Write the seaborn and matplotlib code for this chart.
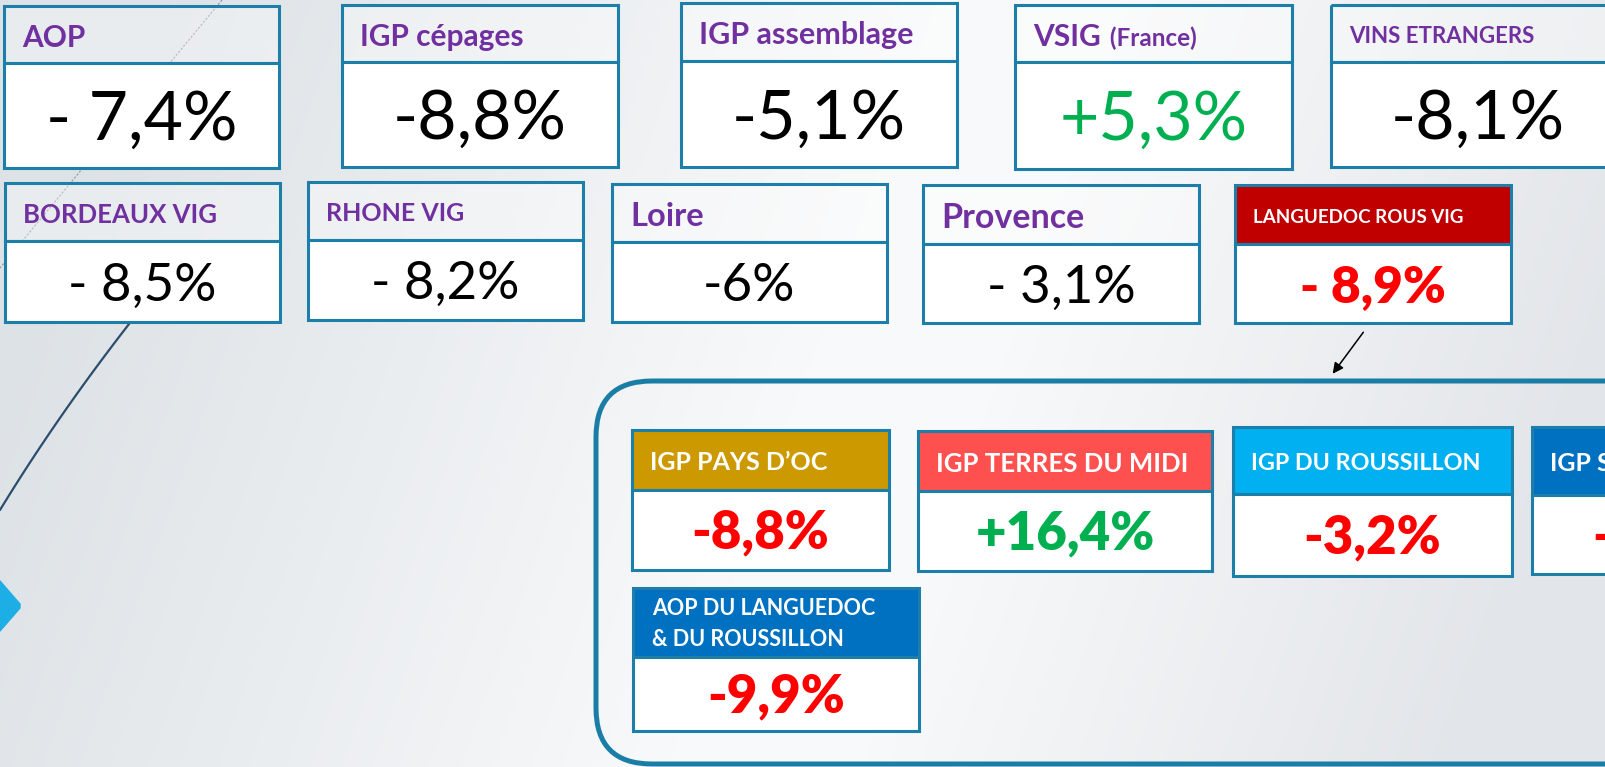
import numpy as np
import matplotlib
matplotlib.use("Agg")
import matplotlib.pyplot as plt
import seaborn as sns
from matplotlib.patches import Rectangle, FancyBboxPatch, Polygon
from matplotlib.colors import LinearSegmentedColormap

# ---------------- data ----------------
row1_labels = ["AOP", "IGP cépages", "IGP assemblage", "VSIG", "VINS ETRANGERS"]
row1_suffix = ["", "", "", " (France)", ""]
row1_values = ["- 7,4%", "-8,8%", "-5,1%", "+5,3%", "-8,1%"]

row2_labels = ["BORDEAUX VIG", "RHONE VIG", "Loire", "Provence", "LANGUEDOC ROUS VIG"]
row2_values = ["- 8,5%", "- 8,2%", "-6%", "- 3,1%", "- 8,9%"]

sub_labels = ["IGP PAYS D\u2019OC", "IGP TERRES DU MIDI", "IGP DU ROUSSILLON", "IGP S",
              "AOP DU LANGUEDOC\n& DU ROUSSILLON"]
sub_values = ["-8,8%", "+16,4%", "-3,2%", "-", "-9,9%"]

# ---------------- styles / layout ----------------
PURPLE = "#7030A0"
GREEN = "#00B050"
RED = "#FF0000"
BORDER = "#1B7FA9"

row1_geom = [(4, 279, 6, 63, 168), (342, 618, 5, 62, 167), (681, 957, 3, 61, 167),
             (1015, 1292, 5, 62, 169), (1331, 1625, 5, 62, 167)]
row1_lsize = [21.5, 21.5, 22, 21.5, 16]
row1_vcol = ["black", "black", "black", GREEN, "black"]

row2_geom = [(5, 280, 183, 241, 322), (308, 583, 182, 240, 320), (612, 887, 184, 242, 322),
             (923, 1199, 185, 244, 323), (1235, 1511, 185, 244, 323)]
row2_lsize = [18.5, 18, 23.5, 24.5, 13.5]
row2_lcol = [PURPLE, PURPLE, PURPLE, PURPLE, "white"]
row2_hface = [None, None, None, None, "#C00000"]
row2_vcol = ["black", "black", "black", "black", RED]
row2_vweight = ["normal", "normal", "normal", "normal", "heavy"]
row2_vsize = [38, 38, 38, 38, 37]

sub_geom = [(632, 889, 430, 490, 570), (918, 1212, 431, 491, 571), (1233, 1512, 427, 494, 576),
            (1532, 1820, 427, 495, 574), (633, 919, 588, 657, 731)]
sub_hface = ["#CC9900", "#FF5050", "#00B0F0", "#0070C0", "#0070C0"]
sub_lsize = [18, 18.5, 16.8, 18, 15.5]
sub_vcol = [RED, GREEN, RED, RED, RED]

W, H = 1605, 767
CAP = 0.7165  # Lato cap-height / em


def pt2px(pt):
    return pt * 100 / 72.0


sns.set_theme(style="white")
plt.rcParams["font.family"] = ["Lato", "DejaVu Sans"]

fig = plt.figure(figsize=(W / 100, H / 100), dpi=100)
ax = fig.add_axes([0, 0, 1, 1])
ax.set_xlim(0, W)
ax.set_ylim(H, 0)
ax.axis("off")

# ---------------- background gradient ----------------
xx, yy = np.meshgrid(np.linspace(0, W, 400), np.linspace(0, H, 200))
u = np.clip((xx + 0.35 * (yy - H / 2)) / W, 0, 1)
bg_cmap = LinearSegmentedColormap.from_list(
    "bg", [(0.0, "#dde2e6"), (0.5, "#f8f9fa"), (0.62, "#f8f9fa"), (1.0, "#e2e5e9")])
ax.imshow(u, cmap=bg_cmap, extent=(0, W, H, 0), aspect="auto", zorder=0, vmin=0, vmax=1)

# decorative lines
t = np.linspace(0, 1, 50)
ax.plot(222 - 222 * t, 268 * t, ls=(0, (2, 1.5)), color="#8797aa", lw=0.8, zorder=1)
cx = 140 - 140 * t - 18 * t * (1 - t)
cy = 310 + 200 * t
ax.plot(cx, cy, color="#2c4e6c", lw=1.6, zorder=1)
ax.add_patch(Polygon([(-26, 606), (0, 581), (20, 604), (20, 608), (0, 631)], closed=True,
                     facecolor="#1EAEE6", edgecolor="#1EAEE6", lw=1, joinstyle="round", zorder=1))


def tile(g, label, value, lsize, lcol, hface, vsize, vcol, vweight, suffix="", vx=None):
    x0, x1, yt, yh, yb = g
    if hface is None:
        ax.add_patch(Rectangle((x0, yt), x1 - x0, yh - yt, facecolor="white", alpha=0.35,
                               edgecolor="none", zorder=2))
        ax.add_patch(Rectangle((x0, yt), x1 - x0, yh - yt, facecolor="none",
                               edgecolor=BORDER, lw=2.2, zorder=3))
    else:
        ax.add_patch(Rectangle((x0, yt), x1 - x0, yh - yt, facecolor=hface,
                               edgecolor=BORDER, lw=2.2, zorder=3))
    ax.add_patch(Rectangle((x0, yh), x1 - x0, yb - yh, facecolor="white",
                           edgecolor=BORDER, lw=2.2, zorder=3))
    lines = label.split("\n")
    cap = CAP * pt2px(lsize)
    if len(lines) == 1:
        base = (yt + yh) / 2 + cap / 2 + 1.5
        txt = ax.text(x0 + 18, base, label, fontsize=lsize, color=lcol, fontweight="bold",
                      va="baseline", ha="left", zorder=4)
        if suffix:
            fig.canvas.draw()
            bb = txt.get_window_extent().transformed(ax.transData.inverted())
            ax.text(bb.x1 + 3, base, suffix, fontsize=17.5, color=lcol,
                    fontweight="bold", va="baseline", ha="left", zorder=4)
    else:
        gap = 31
        base0 = (yt + yh) / 2 + cap / 2 - gap / 2
        for k, ln in enumerate(lines):
            ax.text(x0 + 19, base0 + k * gap, ln, fontsize=lsize, color=lcol,
                    fontweight="bold", va="baseline", ha="left", zorder=4)
    vcap = CAP * pt2px(vsize)
    vbase = (yh + yb) / 2 + vcap / 2
    if vx is None:
        ax.text((x0 + x1) / 2, vbase, value, fontsize=vsize, color=vcol, fontweight=vweight,
                va="baseline", ha="center", zorder=4)
    else:
        ax.text(vx, vbase, value, fontsize=vsize, color=vcol, fontweight=vweight,
                va="baseline", ha="left", zorder=4)


for i in range(5):
    tile(row1_geom[i], row1_labels[i], row1_values[i], row1_lsize[i], PURPLE, None,
         49, row1_vcol[i], "normal", suffix=row1_suffix[i])

for i in range(5):
    tile(row2_geom[i], row2_labels[i], row2_values[i], row2_lsize[i], row2_lcol[i],
         row2_hface[i], row2_vsize[i], row2_vcol[i], row2_vweight[i])

# big rounded frame
ax.add_patch(FancyBboxPatch((596, 381), 1200, 383, boxstyle="round,pad=0,rounding_size=56",
                            facecolor="none", edgecolor="#1A7DA6", lw=3.6, zorder=2))

ax.annotate("", xy=(1331, 376), xytext=(1365, 330),
            arrowprops=dict(arrowstyle="-|>", color="black", lw=1.1, mutation_scale=16),
            zorder=5)

for i in range(5):
    tile(sub_geom[i], sub_labels[i], sub_values[i], sub_lsize[i], "white", sub_hface[i],
         38, sub_vcol[i], "heavy", vx=(1592 if i == 3 else None))

fig.savefig("out.png", dpi=100)
